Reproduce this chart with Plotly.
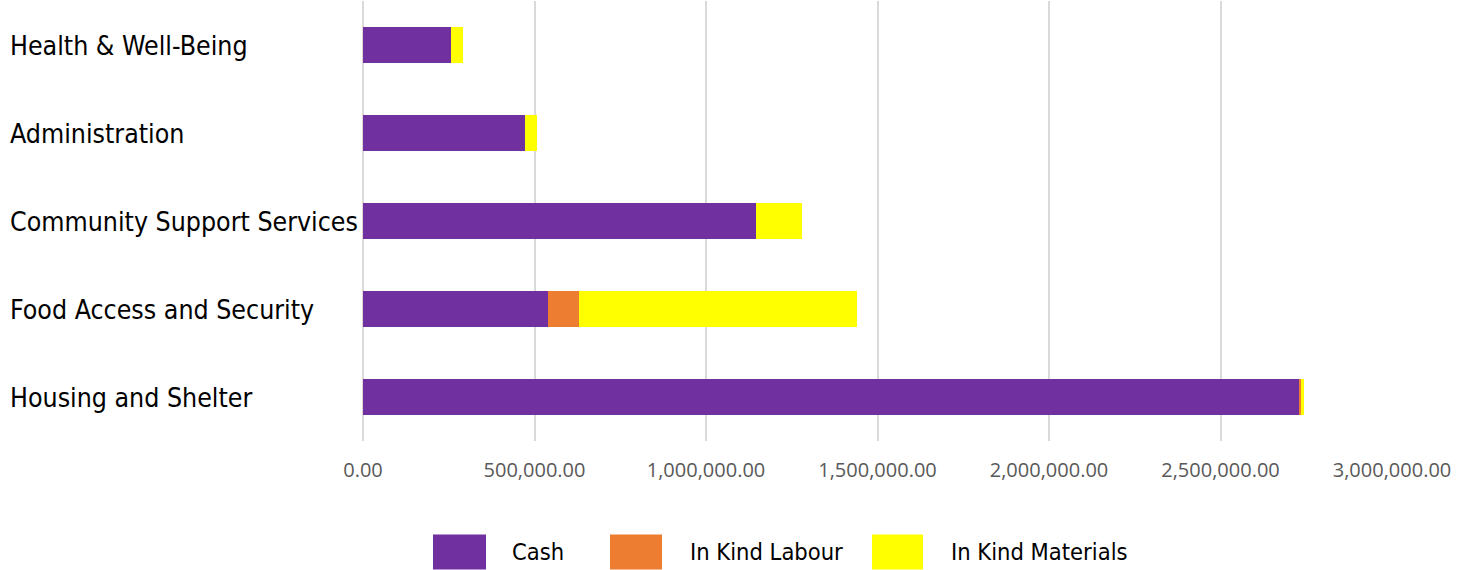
import plotly.graph_objects as go

categories = ["Health & Well-Being", "Administration", "Community Support Services",
              "Food Access and Security", "Housing and Shelter"]
cash = [257000, 473000, 1145000, 540000, 2728000]
in_kind_labour = [0, 0, 0, 90000, 9000]
in_kind_materials = [35000, 35000, 136000, 811000, 5000]

series_names = ["Cash", "In Kind Labour", "In Kind Materials"]
series_colors = ["#7030A0", "#ED7D31", "#FFFF00"]
tick_vals = [0, 500000, 1000000, 1500000, 2000000, 2500000, 3000000]

W, H = 1471, 570
ML, MR, MT, MB = 363, 79, 1, 129
PW = W - ML - MR
PH = H - MT - MB
LABEL_FONT = "DejaVu Sans Condensed, DejaVu Sans, sans-serif"

fig = go.Figure()
for name, vals, col in zip(series_names, [cash, in_kind_labour, in_kind_materials], series_colors):
    fig.add_trace(go.Bar(y=categories, x=vals, name=name, orientation="h",
                         marker=dict(color=col, line=dict(width=0)),
                         showlegend=False))

# Category labels, left-aligned at the far left
for c in categories:
    fig.add_annotation(x=(8 - ML) / PW, xref="paper", y=c, yref="y", text=c,
                       showarrow=False, xanchor="left", yanchor="middle",
                       font=dict(family=LABEL_FONT, size=26.5, color="#000000"))

# Custom legend
leg_y_center = (MT + PH - 552) / PH
sw_h = 35 / PH
swatches = [(433, 486, 510), (610, 662, 688), (872, 923, 949)]
for (x0, x1, tx), name, col in zip(swatches, series_names, series_colors):
    fig.add_shape(type="rect", xref="paper", yref="paper",
                  x0=(x0 - ML) / PW, x1=(x1 - ML) / PW,
                  y0=leg_y_center - sw_h / 2, y1=leg_y_center + sw_h / 2,
                  fillcolor=col, line=dict(width=0))
    fig.add_annotation(x=(tx - ML) / PW, xref="paper", y=leg_y_center, yref="paper",
                       text=name, showarrow=False, xanchor="left", yanchor="middle",
                       font=dict(family=LABEL_FONT, size=23.5, color="#000000"))

fig.update_layout(
    width=W, height=H,
    barmode="stack", bargap=0.6,
    margin=dict(l=ML, r=MR, t=MT, b=MB),
    plot_bgcolor="white", paper_bgcolor="white",
    xaxis=dict(range=[0, 3000000], tickvals=tick_vals, tickformat=",.2f",
               showgrid=True, gridcolor="#D9D9D9", gridwidth=1.5,
               zeroline=True, zerolinecolor="#D9D9D9", zerolinewidth=1.5,
               showline=False, ticks="",
               ticklabelstandoff=15,
               tickfont=dict(family="Open Sans", size=20, color="#595959")),
    yaxis=dict(autorange="reversed", showticklabels=False, showgrid=False,
               zeroline=False, showline=False, ticks=""),
)

fig.write_html("out.html", config={"displayModeBar": False},
               post_script="document.body.style.margin='0';document.body.style.overflow='hidden';")
